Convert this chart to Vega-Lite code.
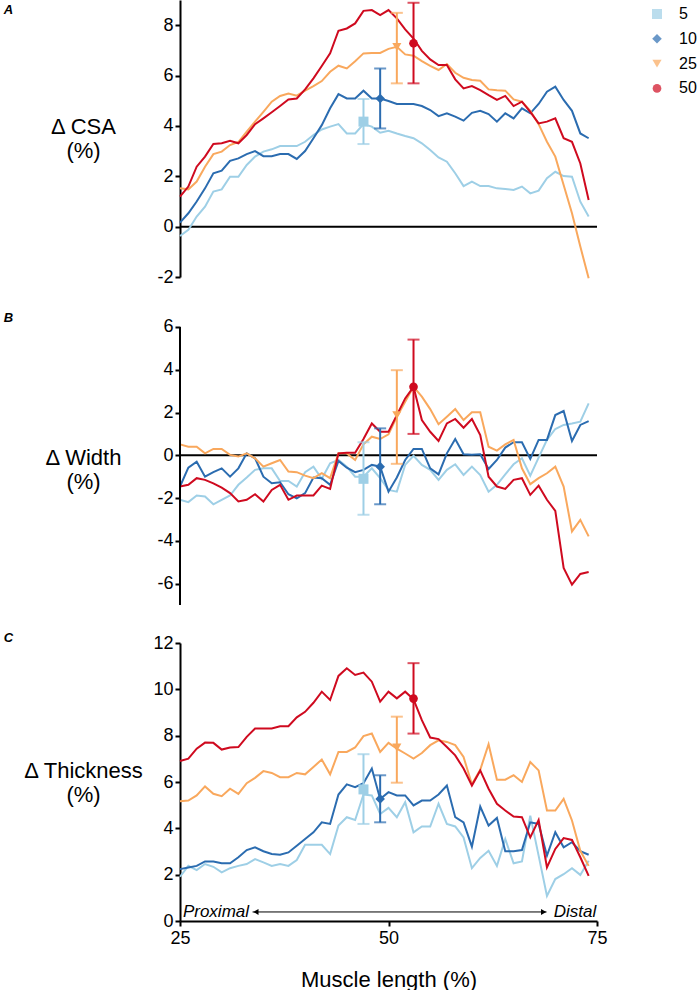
{
"$schema": "https://vega.github.io/schema/vega-lite/v6.json",
"padding": {"left": 3, "top": 0, "right": 0, "bottom": 0},
"spacing": 38,
"bounds": "flush",
"config": {
 "font": "Liberation Sans",
 "view": {"stroke": null},
 "axis": {"domainColor": "black", "domainWidth": 2, "tickColor": "black", "tickWidth": 2, "tickSize": 5, "labelFontSize": 18, "labelColor": "black", "labelPadding": 2, "titleFontSize": 22, "titleColor": "black", "titleFontWeight": "normal", "grid": false, "labelExpr": "datum.value < 0 ? '-' + abs(datum.value) : '' + datum.value"},
 "legend": {"labelFontSize": 16, "labelColor": "black", "symbolSize": 100, "rowPadding": 8.8, "labelOffset": 14, "padding": 6, "offset": 35, "symbolStrokeWidth": 0}
},
"resolve": {"scale": {"color": "shared", "shape": "shared", "size": "shared"}},
"datasets": {
"A": [
{"g":"5","x":25,"y":-0.37},{"g":"5","x":26,"y":-0.13},{"g":"5","x":27,"y":0.40},{"g":"5","x":28,"y":0.79},{"g":"5","x":29,"y":1.39},{"g":"5","x":30,"y":1.48},{"g":"5","x":31,"y":1.98},{"g":"5","x":32,"y":1.98},{"g":"5","x":33,"y":2.45},{"g":"5","x":34,"y":2.78},{"g":"5","x":35,"y":2.98},{"g":"5","x":36,"y":3.07},{"g":"5","x":37,"y":3.20},{"g":"5","x":38,"y":3.20},{"g":"5","x":39,"y":3.20},{"g":"5","x":40,"y":3.37},{"g":"5","x":41,"y":3.64},{"g":"5","x":42,"y":3.86},{"g":"5","x":43,"y":3.97},{"g":"5","x":44,"y":4.07},{"g":"5","x":45,"y":3.70},{"g":"5","x":46,"y":3.70},{"g":"5","x":47,"y":4.07},{"g":"5","x":48,"y":3.97},{"g":"5","x":49,"y":3.73},{"g":"5","x":50,"y":3.81},{"g":"5","x":51,"y":3.70},{"g":"5","x":52,"y":3.60},{"g":"5","x":53,"y":3.51},{"g":"5","x":54,"y":3.31},{"g":"5","x":55,"y":3.04},{"g":"5","x":56,"y":2.75},{"g":"5","x":57,"y":2.58},{"g":"5","x":58,"y":2.12},{"g":"5","x":59,"y":1.61},{"g":"5","x":60,"y":1.79},{"g":"5","x":61,"y":1.61},{"g":"5","x":62,"y":1.61},{"g":"5","x":63,"y":1.52},{"g":"5","x":64,"y":1.49},{"g":"5","x":65,"y":1.46},{"g":"5","x":66,"y":1.59},{"g":"5","x":67,"y":1.32},{"g":"5","x":68,"y":1.43},{"g":"5","x":69,"y":1.92},{"g":"5","x":70,"y":2.18},{"g":"5","x":71,"y":2.01},{"g":"5","x":72,"y":1.98},{"g":"5","x":73,"y":0.99},{"g":"5","x":74,"y":0.40},
{"g":"10","x":25,"y":0.16},{"g":"10","x":26,"y":0.53},{"g":"10","x":27,"y":1.0},{"g":"10","x":28,"y":1.52},{"g":"10","x":29,"y":2.12},{"g":"10","x":30,"y":2.22},{"g":"10","x":31,"y":2.61},{"g":"10","x":32,"y":2.71},{"g":"10","x":33,"y":2.88},{"g":"10","x":34,"y":3.0},{"g":"10","x":35,"y":2.80},{"g":"10","x":36,"y":2.80},{"g":"10","x":37,"y":2.88},{"g":"10","x":38,"y":2.88},{"g":"10","x":39,"y":2.69},{"g":"10","x":40,"y":3.00},{"g":"10","x":41,"y":3.51},{"g":"10","x":42,"y":4.03},{"g":"10","x":43,"y":4.70},{"g":"10","x":44,"y":5.26},{"g":"10","x":45,"y":5.09},{"g":"10","x":46,"y":5.09},{"g":"10","x":47,"y":5.40},{"g":"10","x":48,"y":5.09},{"g":"10","x":49,"y":5.09},{"g":"10","x":50,"y":4.99},{"g":"10","x":51,"y":4.87},{"g":"10","x":52,"y":4.87},{"g":"10","x":53,"y":4.87},{"g":"10","x":54,"y":4.79},{"g":"10","x":55,"y":4.63},{"g":"10","x":56,"y":4.39},{"g":"10","x":57,"y":4.50},{"g":"10","x":58,"y":4.37},{"g":"10","x":59,"y":4.21},{"g":"10","x":60,"y":4.52},{"g":"10","x":61,"y":4.60},{"g":"10","x":62,"y":4.47},{"g":"10","x":63,"y":4.17},{"g":"10","x":64,"y":4.50},{"g":"10","x":65,"y":4.30},{"g":"10","x":66,"y":4.70},{"g":"10","x":67,"y":4.50},{"g":"10","x":68,"y":4.87},{"g":"10","x":69,"y":5.36},{"g":"10","x":70,"y":5.56},{"g":"10","x":71,"y":5.03},{"g":"10","x":72,"y":4.60},{"g":"10","x":73,"y":3.70},{"g":"10","x":74,"y":3.51},
{"g":"25","x":25,"y":1.52},{"g":"25","x":26,"y":1.48},{"g":"25","x":27,"y":1.79},{"g":"25","x":28,"y":2.38},{"g":"25","x":29,"y":2.88},{"g":"25","x":30,"y":2.98},{"g":"25","x":31,"y":3.24},{"g":"25","x":32,"y":3.36},{"g":"25","x":33,"y":3.77},{"g":"25","x":34,"y":4.17},{"g":"25","x":35,"y":4.56},{"g":"25","x":36,"y":4.96},{"g":"25","x":37,"y":5.19},{"g":"25","x":38,"y":5.29},{"g":"25","x":39,"y":5.20},{"g":"25","x":40,"y":5.40},{"g":"25","x":41,"y":5.58},{"g":"25","x":42,"y":5.78},{"g":"25","x":43,"y":6.15},{"g":"25","x":44,"y":6.39},{"g":"25","x":45,"y":6.28},{"g":"25","x":46,"y":6.57},{"g":"25","x":47,"y":6.88},{"g":"25","x":48,"y":6.90},{"g":"25","x":49,"y":6.90},{"g":"25","x":50,"y":7.06},{"g":"25","x":51,"y":7.14},{"g":"25","x":52,"y":6.84},{"g":"25","x":53,"y":6.79},{"g":"25","x":54,"y":6.57},{"g":"25","x":55,"y":6.38},{"g":"25","x":56,"y":6.22},{"g":"25","x":57,"y":6.46},{"g":"25","x":58,"y":6.11},{"g":"25","x":59,"y":5.91},{"g":"25","x":60,"y":5.82},{"g":"25","x":61,"y":5.79},{"g":"25","x":62,"y":5.45},{"g":"25","x":63,"y":5.42},{"g":"25","x":64,"y":5.40},{"g":"25","x":65,"y":5.05},{"g":"25","x":66,"y":4.96},{"g":"25","x":67,"y":4.60},{"g":"25","x":68,"y":4.07},{"g":"25","x":69,"y":3.37},{"g":"25","x":70,"y":2.78},{"g":"25","x":71,"y":1.65},{"g":"25","x":72,"y":0.53},{"g":"25","x":73,"y":-0.79},{"g":"25","x":74,"y":-2.05},
{"g":"50","x":25,"y":1.19},{"g":"50","x":26,"y":1.59},{"g":"50","x":27,"y":2.38},{"g":"50","x":28,"y":2.78},{"g":"50","x":29,"y":3.28},{"g":"50","x":30,"y":3.31},{"g":"50","x":31,"y":3.41},{"g":"50","x":32,"y":3.31},{"g":"50","x":33,"y":3.64},{"g":"50","x":34,"y":4.07},{"g":"50","x":35,"y":4.30},{"g":"50","x":36,"y":4.54},{"g":"50","x":37,"y":4.79},{"g":"50","x":38,"y":5.05},{"g":"50","x":39,"y":5.09},{"g":"50","x":40,"y":5.45},{"g":"50","x":41,"y":5.89},{"g":"50","x":42,"y":6.38},{"g":"50","x":43,"y":6.88},{"g":"50","x":44,"y":7.78},{"g":"50","x":45,"y":7.87},{"g":"50","x":46,"y":8.07},{"g":"50","x":47,"y":8.57},{"g":"50","x":48,"y":8.60},{"g":"50","x":49,"y":8.40},{"g":"50","x":50,"y":8.60},{"g":"50","x":51,"y":8.27},{"g":"50","x":52,"y":7.83},{"g":"50","x":53,"y":7.47},{"g":"50","x":54,"y":6.98},{"g":"50","x":55,"y":6.64},{"g":"50","x":56,"y":6.42},{"g":"50","x":57,"y":6.42},{"g":"50","x":58,"y":5.85},{"g":"50","x":59,"y":5.49},{"g":"50","x":60,"y":5.58},{"g":"50","x":61,"y":5.42},{"g":"50","x":62,"y":5.22},{"g":"50","x":63,"y":5.03},{"g":"50","x":64,"y":5.19},{"g":"50","x":65,"y":4.79},{"g":"50","x":66,"y":4.96},{"g":"50","x":67,"y":4.56},{"g":"50","x":68,"y":4.10},{"g":"50","x":69,"y":4.17},{"g":"50","x":70,"y":4.30},{"g":"50","x":71,"y":3.51},{"g":"50","x":72,"y":3.37},{"g":"50","x":73,"y":2.51},{"g":"50","x":74,"y":1.06}
],
"B": [
{"g":"5","x":25,"y":-2.08},{"g":"5","x":26,"y":-2.19},{"g":"5","x":27,"y":-1.88},{"g":"5","x":28,"y":-1.93},{"g":"5","x":29,"y":-2.29},{"g":"5","x":30,"y":-2.08},{"g":"5","x":31,"y":-1.88},{"g":"5","x":32,"y":-1.38},{"g":"5","x":33,"y":-1.04},{"g":"5","x":34,"y":-0.68},{"g":"5","x":35,"y":-0.61},{"g":"5","x":36,"y":-0.61},{"g":"5","x":37,"y":-1.20},{"g":"5","x":38,"y":-1.20},{"g":"5","x":39,"y":-1.46},{"g":"5","x":40,"y":-0.79},{"g":"5","x":41,"y":-0.53},{"g":"5","x":42,"y":-1.10},{"g":"5","x":43,"y":-0.37},{"g":"5","x":44,"y":-0.22},{"g":"5","x":45,"y":-0.53},{"g":"5","x":46,"y":-1.0},{"g":"5","x":47,"y":-1.0},{"g":"5","x":48,"y":-0.61},{"g":"5","x":49,"y":-1.07},{"g":"5","x":50,"y":-1.62},{"g":"5","x":51,"y":-1.70},{"g":"5","x":52,"y":-0.45},{"g":"5","x":53,"y":-0.02},{"g":"5","x":54,"y":-0.45},{"g":"5","x":55,"y":-0.68},{"g":"5","x":56,"y":-1.15},{"g":"5","x":57,"y":-0.68},{"g":"5","x":58,"y":-0.42},{"g":"5","x":59,"y":-0.92},{"g":"5","x":60,"y":-0.53},{"g":"5","x":61,"y":-0.92},{"g":"5","x":62,"y":-1.70},{"g":"5","x":63,"y":-1.38},{"g":"5","x":64,"y":-0.89},{"g":"5","x":65,"y":-0.42},{"g":"5","x":66,"y":-0.14},{"g":"5","x":67,"y":-0.95},{"g":"5","x":68,"y":-0.11},{"g":"5","x":69,"y":0.72},{"g":"5","x":70,"y":1.23},{"g":"5","x":71,"y":1.42},{"g":"5","x":72,"y":1.49},{"g":"5","x":73,"y":1.57},{"g":"5","x":74,"y":2.43},
{"g":"10","x":25,"y":-1.46},{"g":"10","x":26,"y":-0.58},{"g":"10","x":27,"y":-0.30},{"g":"10","x":28,"y":-1.0},{"g":"10","x":29,"y":-0.79},{"g":"10","x":30,"y":-0.61},{"g":"10","x":31,"y":-1.0},{"g":"10","x":32,"y":-0.61},{"g":"10","x":33,"y":0.09},{"g":"10","x":34,"y":-0.14},{"g":"10","x":35,"y":-1.0},{"g":"10","x":36,"y":-1.31},{"g":"10","x":37,"y":-1.26},{"g":"10","x":38,"y":-1.82},{"g":"10","x":39,"y":-2.01},{"g":"10","x":40,"y":-1.77},{"g":"10","x":41,"y":-1.04},{"g":"10","x":42,"y":-1.07},{"g":"10","x":43,"y":-1.38},{"g":"10","x":44,"y":-0.26},{"g":"10","x":45,"y":-0.58},{"g":"10","x":46,"y":-0.79},{"g":"10","x":47,"y":-0.68},{"g":"10","x":48,"y":-0.45},{"g":"10","x":49,"y":-0.53},{"g":"10","x":50,"y":-1.70},{"g":"10","x":51,"y":-1.04},{"g":"10","x":52,"y":-0.22},{"g":"10","x":53,"y":0.30},{"g":"10","x":54,"y":0.30},{"g":"10","x":55,"y":-0.61},{"g":"10","x":56,"y":-0.89},{"g":"10","x":57,"y":0.09},{"g":"10","x":58,"y":0.76},{"g":"10","x":59,"y":0.05},{"g":"10","x":60,"y":0.02},{"g":"10","x":61,"y":0.05},{"g":"10","x":62,"y":-0.64},{"g":"10","x":63,"y":-0.22},{"g":"10","x":64,"y":0.36},{"g":"10","x":65,"y":0.61},{"g":"10","x":66,"y":0.61},{"g":"10","x":67,"y":-0.17},{"g":"10","x":68,"y":0.72},{"g":"10","x":69,"y":0.72},{"g":"10","x":70,"y":1.88},{"g":"10","x":71,"y":2.07},{"g":"10","x":72,"y":0.67},{"g":"10","x":73,"y":1.42},{"g":"10","x":74,"y":1.60},
{"g":"25","x":25,"y":0.51},{"g":"25","x":26,"y":0.40},{"g":"25","x":27,"y":0.40},{"g":"25","x":28,"y":0.09},{"g":"25","x":29,"y":0.30},{"g":"25","x":30,"y":0.30},{"g":"25","x":31,"y":0.02},{"g":"25","x":32,"y":-0.06},{"g":"25","x":33,"y":0.09},{"g":"25","x":34,"y":-0.14},{"g":"25","x":35,"y":-0.53},{"g":"25","x":36,"y":-0.37},{"g":"25","x":37,"y":-0.22},{"g":"25","x":38,"y":-0.76},{"g":"25","x":39,"y":-0.79},{"g":"25","x":40,"y":-0.95},{"g":"25","x":41,"y":-1.07},{"g":"25","x":42,"y":-0.84},{"g":"25","x":43,"y":-1.07},{"g":"25","x":44,"y":0.09},{"g":"25","x":45,"y":0.09},{"g":"25","x":46,"y":-0.22},{"g":"25","x":47,"y":0.51},{"g":"25","x":48,"y":0.87},{"g":"25","x":49,"y":0.76},{"g":"25","x":50,"y":0.98},{"g":"25","x":51,"y":1.80},{"g":"25","x":52,"y":2.50},{"g":"25","x":53,"y":3.20},{"g":"25","x":54,"y":2.74},{"g":"25","x":55,"y":2.16},{"g":"25","x":56,"y":1.45},{"g":"25","x":57,"y":1.80},{"g":"25","x":58,"y":2.16},{"g":"25","x":59,"y":1.65},{"g":"25","x":60,"y":2.01},{"g":"25","x":61,"y":2.01},{"g":"25","x":62,"y":0.40},{"g":"25","x":63,"y":0.22},{"g":"25","x":64,"y":0.51},{"g":"25","x":65,"y":0.72},{"g":"25","x":66,"y":-0.61},{"g":"25","x":67,"y":-1.35},{"g":"25","x":68,"y":-1.07},{"g":"25","x":69,"y":-0.84},{"g":"25","x":70,"y":-0.53},{"g":"25","x":71,"y":-1.46},{"g":"25","x":72,"y":-3.56},{"g":"25","x":73,"y":-3.02},{"g":"25","x":74,"y":-3.79},
{"g":"50","x":25,"y":-1.46},{"g":"50","x":26,"y":-1.38},{"g":"50","x":27,"y":-1.07},{"g":"50","x":28,"y":-1.15},{"g":"50","x":29,"y":-1.31},{"g":"50","x":30,"y":-1.51},{"g":"50","x":31,"y":-1.77},{"g":"50","x":32,"y":-2.16},{"g":"50","x":33,"y":-2.08},{"g":"50","x":34,"y":-1.82},{"g":"50","x":35,"y":-2.16},{"g":"50","x":36,"y":-1.62},{"g":"50","x":37,"y":-1.38},{"g":"50","x":38,"y":-2.08},{"g":"50","x":39,"y":-1.88},{"g":"50","x":40,"y":-1.88},{"g":"50","x":41,"y":-1.88},{"g":"50","x":42,"y":-1.42},{"g":"50","x":43,"y":-1.57},{"g":"50","x":44,"y":0.09},{"g":"50","x":45,"y":0.12},{"g":"50","x":46,"y":0.12},{"g":"50","x":47,"y":0.76},{"g":"50","x":48,"y":1.49},{"g":"50","x":49,"y":1.10},{"g":"50","x":50,"y":1.10},{"g":"50","x":51,"y":1.88},{"g":"50","x":52,"y":2.66},{"g":"50","x":53,"y":3.20},{"g":"50","x":54,"y":1.65},{"g":"50","x":55,"y":1.10},{"g":"50","x":56,"y":0.67},{"g":"50","x":57,"y":1.49},{"g":"50","x":58,"y":1.70},{"g":"50","x":59,"y":1.29},{"g":"50","x":60,"y":1.70},{"g":"50","x":61,"y":0.95},{"g":"50","x":62,"y":-1.0},{"g":"50","x":63,"y":-1.46},{"g":"50","x":64,"y":-1.57},{"g":"50","x":65,"y":-1.15},{"g":"50","x":66,"y":-1.07},{"g":"50","x":67,"y":-1.85},{"g":"50","x":68,"y":-1.42},{"g":"50","x":69,"y":-2.08},{"g":"50","x":70,"y":-2.60},{"g":"50","x":71,"y":-5.27},{"g":"50","x":72,"y":-6.05},{"g":"50","x":73,"y":-5.55},{"g":"50","x":74,"y":-5.46}
],
"C": [
{"g":"5","x":25,"y":1.91},{"g":"5","x":26,"y":2.38},{"g":"5","x":27,"y":2.20},{"g":"5","x":28,"y":2.46},{"g":"5","x":29,"y":2.34},{"g":"5","x":30,"y":2.10},{"g":"5","x":31,"y":2.28},{"g":"5","x":32,"y":2.38},{"g":"5","x":33,"y":2.46},{"g":"5","x":34,"y":2.67},{"g":"5","x":35,"y":2.53},{"g":"5","x":36,"y":2.38},{"g":"5","x":37,"y":2.46},{"g":"5","x":38,"y":2.38},{"g":"5","x":39,"y":2.63},{"g":"5","x":40,"y":3.29},{"g":"5","x":41,"y":3.29},{"g":"5","x":42,"y":3.29},{"g":"5","x":43,"y":2.89},{"g":"5","x":44,"y":4.12},{"g":"5","x":45,"y":4.48},{"g":"5","x":46,"y":4.36},{"g":"5","x":47,"y":5.46},{"g":"5","x":48,"y":5.42},{"g":"5","x":49,"y":4.62},{"g":"5","x":50,"y":4.88},{"g":"5","x":51,"y":4.48},{"g":"5","x":52,"y":5.13},{"g":"5","x":53,"y":3.83},{"g":"5","x":54,"y":4.08},{"g":"5","x":55,"y":4.08},{"g":"5","x":56,"y":5.06},{"g":"5","x":57,"y":4.19},{"g":"5","x":58,"y":4.08},{"g":"5","x":59,"y":3.61},{"g":"5","x":60,"y":2.28},{"g":"5","x":61,"y":2.72},{"g":"5","x":62,"y":3.03},{"g":"5","x":63,"y":2.38},{"g":"5","x":64,"y":3.54},{"g":"5","x":65,"y":2.49},{"g":"5","x":66,"y":2.57},{"g":"5","x":67,"y":4.55},{"g":"5","x":68,"y":2.82},{"g":"5","x":69,"y":1.08},{"g":"5","x":70,"y":1.81},{"g":"5","x":71,"y":2.02},{"g":"5","x":72,"y":2.28},{"g":"5","x":73,"y":1.99},{"g":"5","x":74,"y":2.60},
{"g":"10","x":25,"y":2.24},{"g":"10","x":26,"y":2.31},{"g":"10","x":27,"y":2.38},{"g":"10","x":28,"y":2.57},{"g":"10","x":29,"y":2.57},{"g":"10","x":30,"y":2.49},{"g":"10","x":31,"y":2.49},{"g":"10","x":32,"y":2.75},{"g":"10","x":33,"y":3.06},{"g":"10","x":34,"y":3.18},{"g":"10","x":35,"y":3.01},{"g":"10","x":36,"y":2.89},{"g":"10","x":37,"y":2.86},{"g":"10","x":38,"y":2.96},{"g":"10","x":39,"y":3.25},{"g":"10","x":40,"y":3.54},{"g":"10","x":41,"y":3.83},{"g":"10","x":42,"y":4.26},{"g":"10","x":43,"y":4.19},{"g":"10","x":44,"y":5.46},{"g":"10","x":45,"y":5.90},{"g":"10","x":46,"y":5.78},{"g":"10","x":47,"y":5.95},{"g":"10","x":48,"y":6.58},{"g":"10","x":49,"y":5.27},{"g":"10","x":50,"y":5.56},{"g":"10","x":51,"y":5.42},{"g":"10","x":52,"y":5.42},{"g":"10","x":53,"y":4.99},{"g":"10","x":54,"y":5.20},{"g":"10","x":55,"y":5.20},{"g":"10","x":56,"y":5.46},{"g":"10","x":57,"y":5.85},{"g":"10","x":58,"y":4.48},{"g":"10","x":59,"y":4.26},{"g":"10","x":60,"y":3.21},{"g":"10","x":61,"y":4.94},{"g":"10","x":62,"y":4.12},{"g":"10","x":63,"y":4.45},{"g":"10","x":64,"y":3.01},{"g":"10","x":65,"y":3.01},{"g":"10","x":66,"y":3.06},{"g":"10","x":67,"y":4.26},{"g":"10","x":68,"y":4.19},{"g":"10","x":69,"y":2.82},{"g":"10","x":70,"y":3.83},{"g":"10","x":71,"y":3.18},{"g":"10","x":72,"y":3.40},{"g":"10","x":73,"y":3.01},{"g":"10","x":74,"y":2.86},
{"g":"25","x":25,"y":5.17},{"g":"25","x":26,"y":5.20},{"g":"25","x":27,"y":5.42},{"g":"25","x":28,"y":5.81},{"g":"25","x":29,"y":5.49},{"g":"25","x":30,"y":5.39},{"g":"25","x":31,"y":5.71},{"g":"25","x":32,"y":5.49},{"g":"25","x":33,"y":5.95},{"g":"25","x":34,"y":6.18},{"g":"25","x":35,"y":6.47},{"g":"25","x":36,"y":6.39},{"g":"25","x":37,"y":6.21},{"g":"25","x":38,"y":6.21},{"g":"25","x":39,"y":6.39},{"g":"25","x":40,"y":6.33},{"g":"25","x":41,"y":6.65},{"g":"25","x":42,"y":6.97},{"g":"25","x":43,"y":6.33},{"g":"25","x":44,"y":7.30},{"g":"25","x":45,"y":7.30},{"g":"25","x":46,"y":7.49},{"g":"25","x":47,"y":7.98},{"g":"25","x":48,"y":8.09},{"g":"25","x":49,"y":7.30},{"g":"25","x":50,"y":7.69},{"g":"25","x":51,"y":7.44},{"g":"25","x":52,"y":7.23},{"g":"25","x":53,"y":7.01},{"g":"25","x":54,"y":7.25},{"g":"25","x":55,"y":7.59},{"g":"25","x":56,"y":7.80},{"g":"25","x":57,"y":7.73},{"g":"25","x":58,"y":7.59},{"g":"25","x":59,"y":7.08},{"g":"25","x":60,"y":5.90},{"g":"25","x":61,"y":6.53},{"g":"25","x":62,"y":7.63},{"g":"25","x":63,"y":6.10},{"g":"25","x":64,"y":6.10},{"g":"25","x":65,"y":6.29},{"g":"25","x":66,"y":6.0},{"g":"25","x":67,"y":6.86},{"g":"25","x":68,"y":6.50},{"g":"25","x":69,"y":4.77},{"g":"25","x":70,"y":4.77},{"g":"25","x":71,"y":5.27},{"g":"25","x":72,"y":4.34},{"g":"25","x":73,"y":3.03},{"g":"25","x":74,"y":2.38},
{"g":"50","x":25,"y":6.91},{"g":"50","x":26,"y":7.01},{"g":"50","x":27,"y":7.44},{"g":"50","x":28,"y":7.70},{"g":"50","x":29,"y":7.69},{"g":"50","x":30,"y":7.40},{"g":"50","x":31,"y":7.49},{"g":"50","x":32,"y":7.51},{"g":"50","x":33,"y":7.95},{"g":"50","x":34,"y":8.31},{"g":"50","x":35,"y":8.31},{"g":"50","x":36,"y":8.31},{"g":"50","x":37,"y":8.41},{"g":"50","x":38,"y":8.41},{"g":"50","x":39,"y":8.79},{"g":"50","x":40,"y":9.03},{"g":"50","x":41,"y":9.42},{"g":"50","x":42,"y":9.90},{"g":"50","x":43,"y":9.54},{"g":"50","x":44,"y":10.58},{"g":"50","x":45,"y":10.91},{"g":"50","x":46,"y":10.62},{"g":"50","x":47,"y":10.72},{"g":"50","x":48,"y":10.33},{"g":"50","x":49,"y":9.47},{"g":"50","x":50,"y":9.90},{"g":"50","x":51,"y":9.61},{"g":"50","x":52,"y":9.90},{"g":"50","x":53,"y":9.57},{"g":"50","x":54,"y":8.67},{"g":"50","x":55,"y":7.92},{"g":"50","x":56,"y":7.85},{"g":"50","x":57,"y":7.51},{"g":"50","x":58,"y":7.15},{"g":"50","x":59,"y":6.58},{"g":"50","x":60,"y":5.85},{"g":"50","x":61,"y":6.50},{"g":"50","x":62,"y":5.71},{"g":"50","x":63,"y":5.06},{"g":"50","x":64,"y":4.77},{"g":"50","x":65,"y":4.51},{"g":"50","x":66,"y":4.48},{"g":"50","x":67,"y":3.61},{"g":"50","x":68,"y":4.36},{"g":"50","x":69,"y":2.31},{"g":"50","x":70,"y":3.11},{"g":"50","x":71,"y":3.58},{"g":"50","x":72,"y":3.50},{"g":"50","x":73,"y":2.75},{"g":"50","x":74,"y":1.95}
],
"M": [
{"p":"A","g":"5","x":47,"m":4.17,"lo":3.28,"hi":5.07},
{"p":"A","g":"10","x":49,"m":5.09,"lo":3.90,"hi":6.28},
{"p":"A","g":"25","x":51,"m":7.14,"lo":5.69,"hi":8.49},
{"p":"A","g":"50","x":53,"m":7.28,"lo":5.69,"hi":8.89},
{"p":"B","g":"5","x":47,"m":-1.10,"lo":-2.78,"hi":0.61},
{"p":"B","g":"10","x":49,"m":-0.53,"lo":-2.29,"hi":1.26},
{"p":"B","g":"25","x":51,"m":1.88,"lo":-0.40,"hi":3.98},
{"p":"B","g":"50","x":53,"m":3.20,"lo":1.0,"hi":5.41},
{"p":"C","g":"5","x":47,"m":5.68,"lo":4.19,"hi":7.20},
{"p":"C","g":"10","x":49,"m":5.27,"lo":4.26,"hi":6.29},
{"p":"C","g":"25","x":51,"m":7.49,"lo":5.97,"hi":8.82},
{"p":"C","g":"50","x":53,"m":9.60,"lo":8.09,"hi":11.13}
]
},
"vconcat": [
{
 "width": 417, "height": 277,
 "layer": [
  {"data": {"values": [{"v": 0}]}, "mark": {"type": "rule", "color": "black", "strokeWidth": 2},
   "encoding": {"y": {"field": "v", "type": "quantitative", "scale": {"domain": [-2, 9], "nice": false, "zero": false}}}},
  {"data": {"name": "A"}, "mark": {"type": "line", "strokeWidth": 2},
   "encoding": {
    "x": {"field": "x", "type": "quantitative", "scale": {"domain": [25, 75], "nice": false, "zero": false}, "axis": null},
    "y": {"field": "y", "type": "quantitative", "scale": {"domain": [-2, 9], "nice": false, "zero": false},
          "axis": {"values": [-2, 0, 2, 4, 6, 8], "title": ["Δ CSA", "(%)"], "titleAngle": 0, "titleAlign": "center", "titleBaseline": "middle", "titleX": -97, "titleY": 126, "titleLineHeight": 24}},
    "color": {"field": "g", "type": "nominal", "scale": {"domain": ["5", "10", "25", "50"], "range": ["#9ecfe6", "#2b6cb0", "#f9a85d", "#cf0a1f"]}, "legend": {"title": null}}}},
  {"data": {"name": "M"}, "transform": [{"filter": "datum.p === 'A'"}], "mark": {"type": "rule", "strokeWidth": 2},
   "encoding": {"x": {"field": "x", "type": "quantitative", "axis": null}, "y": {"field": "lo", "type": "quantitative"}, "y2": {"field": "hi"},
    "color": {"field": "g", "type": "nominal", "legend": {"title": null}}}},
  {"data": {"name": "M"}, "transform": [{"filter": "datum.p === 'A'"}], "mark": {"type": "tick", "orient": "horizontal", "size": 12, "thickness": 2},
   "encoding": {"x": {"field": "x", "type": "quantitative", "axis": null}, "y": {"field": "lo", "type": "quantitative"},
    "color": {"field": "g", "type": "nominal", "legend": {"title": null}}}},
  {"data": {"name": "M"}, "transform": [{"filter": "datum.p === 'A'"}], "mark": {"type": "tick", "orient": "horizontal", "size": 12, "thickness": 2},
   "encoding": {"x": {"field": "x", "type": "quantitative", "axis": null}, "y": {"field": "hi", "type": "quantitative"},
    "color": {"field": "g", "type": "nominal", "legend": {"title": null}}}},
  {"data": {"name": "M"}, "transform": [{"filter": "datum.p === 'A'"}], "mark": {"type": "point", "filled": true, "opacity": 1, "strokeWidth": 0},
   "encoding": {"x": {"field": "x", "type": "quantitative", "axis": null}, "y": {"field": "m", "type": "quantitative"},
    "color": {"field": "g", "type": "nominal", "legend": {"title": null}},
    "shape": {"field": "g", "type": "nominal", "scale": {"domain": ["5", "10", "25", "50"], "range": ["square", "diamond", "triangle-down", "circle"]}, "legend": {"title": null}},
    "size": {"field": "g", "type": "nominal", "scale": {"domain": ["5", "10", "25", "50"], "range": [100, 75, 60, 95]}, "legend": null}}},
  {"data": {"values": [{"x": 4.44, "y": 8.6, "t": "A"}]}, "mark": {"type": "text", "align": "center", "baseline": "middle", "fontSize": 13, "fontWeight": "bold", "fontStyle": "italic", "color": "black"},
   "encoding": {"x": {"field": "x", "type": "quantitative", "axis": null}, "y": {"field": "y", "type": "quantitative"}, "text": {"field": "t"}}}
 ]
},
{
 "width": 417, "height": 290,
 "layer": [
  {"data": {"values": [{"v": 0}]}, "mark": {"type": "rule", "color": "black", "strokeWidth": 2},
   "encoding": {"y": {"field": "v", "type": "quantitative", "scale": {"domain": [-7, 6.56], "nice": false, "zero": false}}}},
  {"data": {"name": "B"}, "mark": {"type": "line", "strokeWidth": 2},
   "encoding": {
    "x": {"field": "x", "type": "quantitative", "scale": {"domain": [25, 75], "nice": false, "zero": false}, "axis": null},
    "y": {"field": "y", "type": "quantitative", "scale": {"domain": [-7, 6.56], "nice": false, "zero": false},
          "axis": {"values": [-6, -4, -2, 0, 2, 4, 6], "domain": false, "title": ["Δ Width", "(%)"], "titleAngle": 0, "titleAlign": "center", "titleBaseline": "middle", "titleX": -97, "titleY": 142, "titleLineHeight": 24}},
    "color": {"field": "g", "type": "nominal", "scale": {"domain": ["5", "10", "25", "50"], "range": ["#9ecfe6", "#2b6cb0", "#f9a85d", "#cf0a1f"]}, "legend": {"title": null}}}},
  {"data": {"values": [{"x": 25, "y": -7, "y2": 6}]}, "mark": {"type": "rule", "color": "black", "strokeWidth": 2},
   "encoding": {"x": {"field": "x", "type": "quantitative", "scale": {"domain": [25, 75], "nice": false, "zero": false}, "axis": null}, "y": {"field": "y", "type": "quantitative"}, "y2": {"field": "y2"}}},
  {"data": {"name": "M"}, "transform": [{"filter": "datum.p === 'B'"}], "mark": {"type": "rule", "strokeWidth": 2},
   "encoding": {"x": {"field": "x", "type": "quantitative", "scale": {"domain": [25, 75], "nice": false, "zero": false}, "axis": null}, "y": {"field": "lo", "type": "quantitative"}, "y2": {"field": "hi"},
    "color": {"field": "g", "type": "nominal", "legend": {"title": null}}}},
  {"data": {"name": "M"}, "transform": [{"filter": "datum.p === 'B'"}], "mark": {"type": "tick", "orient": "horizontal", "size": 12, "thickness": 2},
   "encoding": {"x": {"field": "x", "type": "quantitative", "scale": {"domain": [25, 75], "nice": false, "zero": false}, "axis": null}, "y": {"field": "lo", "type": "quantitative"},
    "color": {"field": "g", "type": "nominal", "legend": {"title": null}}}},
  {"data": {"name": "M"}, "transform": [{"filter": "datum.p === 'B'"}], "mark": {"type": "tick", "orient": "horizontal", "size": 12, "thickness": 2},
   "encoding": {"x": {"field": "x", "type": "quantitative", "scale": {"domain": [25, 75], "nice": false, "zero": false}, "axis": null}, "y": {"field": "hi", "type": "quantitative"},
    "color": {"field": "g", "type": "nominal", "legend": {"title": null}}}},
  {"data": {"name": "M"}, "transform": [{"filter": "datum.p === 'B'"}], "mark": {"type": "point", "filled": true, "opacity": 1, "strokeWidth": 0},
   "encoding": {"x": {"field": "x", "type": "quantitative", "scale": {"domain": [25, 75], "nice": false, "zero": false}, "axis": null}, "y": {"field": "m", "type": "quantitative"},
    "color": {"field": "g", "type": "nominal", "legend": {"title": null}},
    "shape": {"field": "g", "type": "nominal", "scale": {"domain": ["5", "10", "25", "50"], "range": ["square", "diamond", "triangle-down", "circle"]}, "legend": {"title": null}},
    "size": {"field": "g", "type": "nominal", "scale": {"domain": ["5", "10", "25", "50"], "range": [100, 75, 60, 95]}, "legend": null}}},
  {"data": {"values": [{"x": 4.44, "y": 6.41, "t": "B"}]}, "mark": {"type": "text", "align": "center", "baseline": "middle", "fontSize": 13, "fontWeight": "bold", "fontStyle": "italic", "color": "black"},
   "encoding": {"x": {"field": "x", "type": "quantitative", "scale": {"domain": [25, 75], "nice": false, "zero": false}, "axis": null}, "y": {"field": "y", "type": "quantitative"}, "text": {"field": "t"}}}
 ]
},
{
 "width": 417, "height": 278,
 "layer": [
  {"data": {"name": "C"}, "mark": {"type": "line", "strokeWidth": 2},
   "encoding": {
    "x": {"field": "x", "type": "quantitative", "scale": {"domain": [25, 75], "nice": false, "zero": false},
          "axis": {"values": [25, 50, 75], "labelFlush": false, "title": "Muscle length (%)", "titlePadding": 22, "labelPadding": 3}},
    "y": {"field": "y", "type": "quantitative", "scale": {"domain": [0, 12], "nice": false, "zero": false},
          "axis": {"values": [0, 2, 4, 6, 8, 10, 12], "title": ["Δ Thickness", "(%)"], "titleAngle": 0, "titleAlign": "center", "titleBaseline": "middle", "titleX": -97, "titleY": 127, "titleLineHeight": 24}},
    "color": {"field": "g", "type": "nominal", "scale": {"domain": ["5", "10", "25", "50"], "range": ["#9ecfe6", "#2b6cb0", "#f9a85d", "#cf0a1f"]}, "legend": {"title": null}}}},
  {"data": {"name": "M"}, "transform": [{"filter": "datum.p === 'C'"}], "mark": {"type": "rule", "strokeWidth": 2},
   "encoding": {"x": {"field": "x", "type": "quantitative"}, "y": {"field": "lo", "type": "quantitative"}, "y2": {"field": "hi"},
    "color": {"field": "g", "type": "nominal", "legend": {"title": null}}}},
  {"data": {"name": "M"}, "transform": [{"filter": "datum.p === 'C'"}], "mark": {"type": "tick", "orient": "horizontal", "size": 12, "thickness": 2},
   "encoding": {"x": {"field": "x", "type": "quantitative"}, "y": {"field": "lo", "type": "quantitative"},
    "color": {"field": "g", "type": "nominal", "legend": {"title": null}}}},
  {"data": {"name": "M"}, "transform": [{"filter": "datum.p === 'C'"}], "mark": {"type": "tick", "orient": "horizontal", "size": 12, "thickness": 2},
   "encoding": {"x": {"field": "x", "type": "quantitative"}, "y": {"field": "hi", "type": "quantitative"},
    "color": {"field": "g", "type": "nominal", "legend": {"title": null}}}},
  {"data": {"name": "M"}, "transform": [{"filter": "datum.p === 'C'"}], "mark": {"type": "point", "filled": true, "opacity": 1, "strokeWidth": 0},
   "encoding": {"x": {"field": "x", "type": "quantitative"}, "y": {"field": "m", "type": "quantitative"},
    "color": {"field": "g", "type": "nominal", "legend": {"title": null}},
    "shape": {"field": "g", "type": "nominal", "scale": {"domain": ["5", "10", "25", "50"], "range": ["square", "diamond", "triangle-down", "circle"]}, "legend": {"title": null}},
    "size": {"field": "g", "type": "nominal", "scale": {"domain": ["5", "10", "25", "50"], "range": [100, 75, 60, 95]}, "legend": null}}},
  {"data": {"values": [{"x": 33.7, "x2": 68.95, "y": 0.39}]}, "mark": {"type": "rule", "color": "black", "strokeWidth": 1},
   "encoding": {"x": {"field": "x", "type": "quantitative"}, "x2": {"field": "x2"}, "y": {"field": "y", "type": "quantitative"}}},
  {"data": {"values": [{"x": 34.1, "y": 0.39}]}, "mark": {"type": "point", "shape": "triangle-left", "filled": true, "color": "black", "size": 36, "opacity": 1},
   "encoding": {"x": {"field": "x", "type": "quantitative"}, "y": {"field": "y", "type": "quantitative"}}},
  {"data": {"values": [{"x": 68.6, "y": 0.39}]}, "mark": {"type": "point", "shape": "triangle-right", "filled": true, "color": "black", "size": 36, "opacity": 1},
   "encoding": {"x": {"field": "x", "type": "quantitative"}, "y": {"field": "y", "type": "quantitative"}}},
  {"data": {"values": [{"x": 25.35, "y": 0.39, "t": "Proximal"}]}, "mark": {"type": "text", "align": "left", "baseline": "middle", "fontStyle": "italic", "fontSize": 17, "color": "black"},
   "encoding": {"x": {"field": "x", "type": "quantitative"}, "y": {"field": "y", "type": "quantitative"}, "text": {"field": "t"}}},
  {"data": {"values": [{"x": 74.9, "y": 0.39, "t": "Distal"}]}, "mark": {"type": "text", "align": "right", "baseline": "middle", "fontStyle": "italic", "fontSize": 17, "color": "black"},
   "encoding": {"x": {"field": "x", "type": "quantitative"}, "y": {"field": "y", "type": "quantitative"}, "text": {"field": "t"}}},
  {"data": {"values": [{"x": 4.44, "y": 12.23, "t": "C"}]}, "mark": {"type": "text", "align": "center", "baseline": "middle", "fontSize": 13, "fontWeight": "bold", "fontStyle": "italic", "color": "black"},
   "encoding": {"x": {"field": "x", "type": "quantitative"}, "y": {"field": "y", "type": "quantitative"}, "text": {"field": "t"}}}
 ]
}
]
}
